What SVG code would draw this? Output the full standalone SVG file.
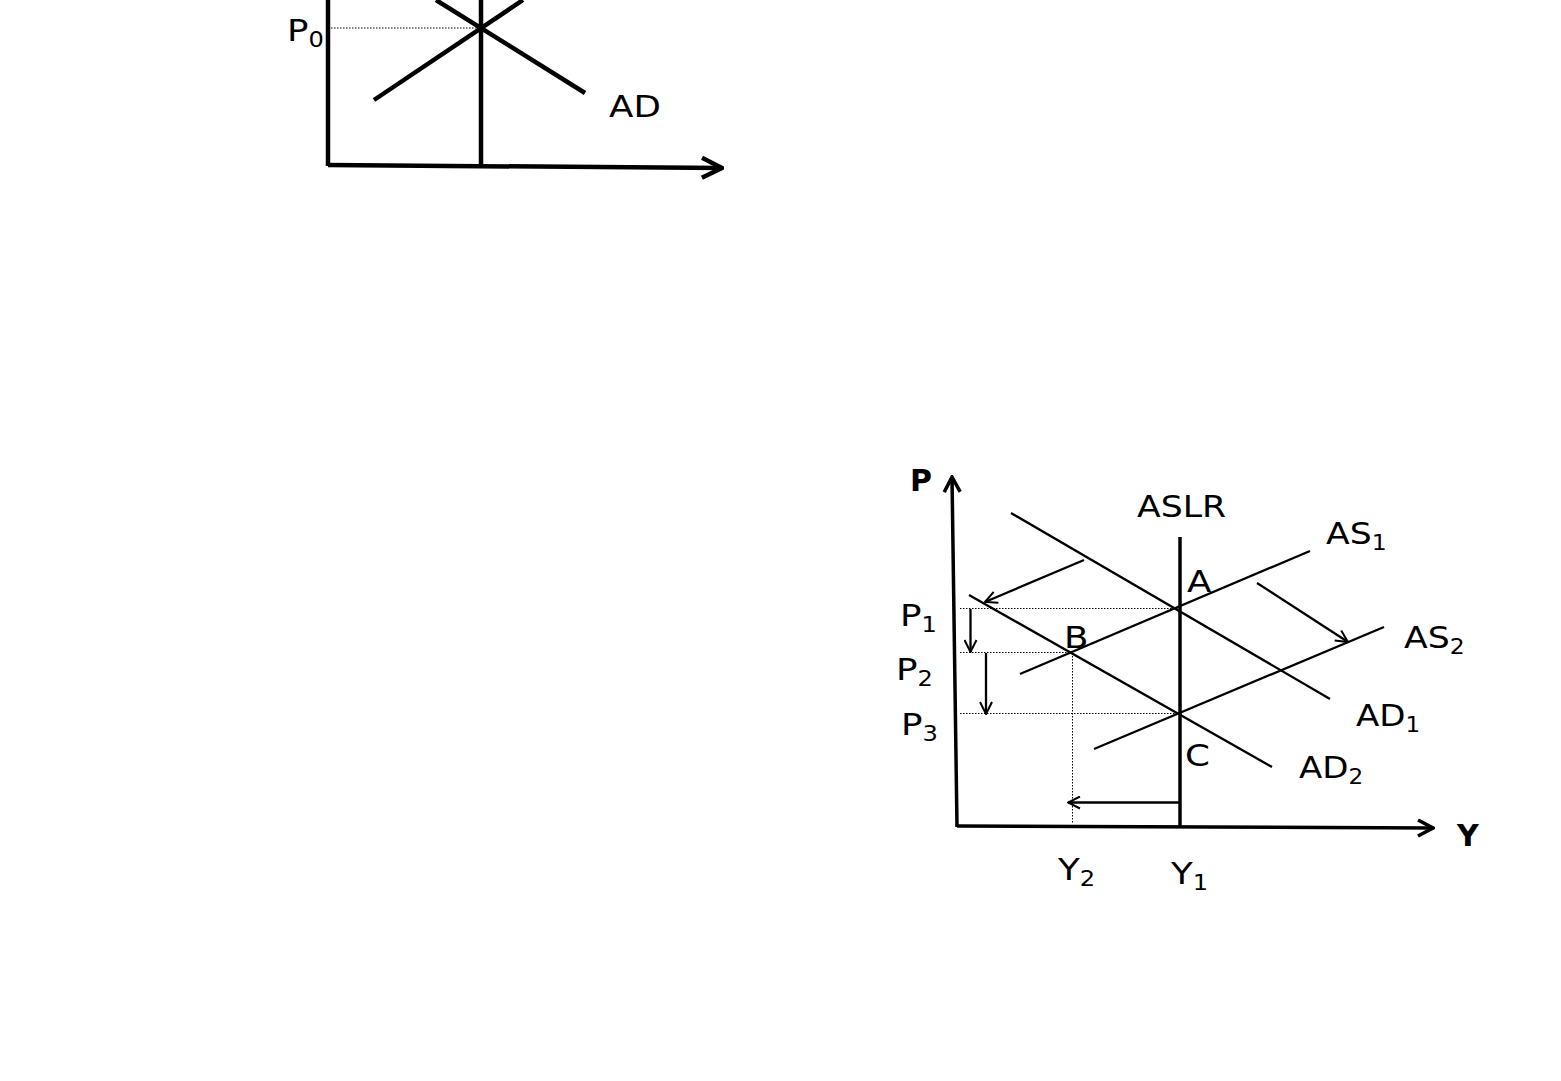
<svg xmlns="http://www.w3.org/2000/svg" width="1561" height="1081" viewBox="0 0 1561 1081">
<style>
.t{font-family:"DejaVu Sans","Liberation Sans",sans-serif;font-size:31px;fill:#000}
.s{font-size:21px}
.b{font-family:"DejaVu Sans","Liberation Sans",sans-serif;font-weight:bold;fill:#000}
.thick{stroke:#000;stroke-width:4.5;fill:none}
.ax{stroke:#000;stroke-width:3.5;fill:none}
.ln{stroke:#000;stroke-width:2.3;fill:none}
.dot{stroke:#000;stroke-width:1;stroke-dasharray:1.5,1.5;fill:none}
</style>
<defs>
<marker id="open" viewBox="0 0 14 14" refX="13" refY="7" markerWidth="14" markerHeight="14" markerUnits="userSpaceOnUse" orient="auto">
<path d="M1,1 L13,7 L1,13" fill="none" stroke="#000" stroke-width="2"/>
</marker>
<marker id="big" viewBox="0 0 20 20" refX="18" refY="10" markerWidth="20" markerHeight="20" markerUnits="userSpaceOnUse" orient="auto">
<path d="M3,2 L18,10 L3,18" fill="none" stroke="#000" stroke-width="3.5"/>
</marker>
<marker id="bigtop" viewBox="0 0 24 24" refX="22" refY="12" markerWidth="24" markerHeight="24" markerUnits="userSpaceOnUse" orient="auto">
<path d="M2,2 L22,12 L2,22" fill="none" stroke="#000" stroke-width="4.5"/>
</marker>
</defs>

<g id="top-chart">
<g id="top-axes">
<line class="thick" x1="328" y1="0" x2="328" y2="166"/>
<line class="thick" x1="328" y1="165" x2="722" y2="168" marker-end="url(#bigtop)"/>
</g>
<g id="top-lr"><line class="thick" x1="481" y1="0" x2="481" y2="165"/></g>
<g id="top-ad"><line class="thick" x1="436" y1="0" x2="585" y2="93"/></g>
<g id="top-as"><line class="thick" x1="523" y1="0" x2="374" y2="100"/></g>
<g id="top-p0-line"><line class="dot" x1="331" y1="28" x2="481" y2="28"/></g>
<g id="label-P0" transform="translate(287,41) scale(1.15,1)"><text class="t">P<tspan class="s" dy="6">0</tspan></text></g>
<g id="label-AD" transform="translate(609,117) scale(1.15,1)"><text class="t">AD</text></g>
</g>

<g id="bottom-chart">
<g id="axes">
<line class="ax" x1="957" y1="827" x2="952" y2="477" marker-end="url(#big)"/>
<line class="ax" x1="957" y1="826" x2="1433" y2="828" marker-end="url(#big)"/>
</g>
<g id="ASLR-line"><line class="ax" x1="1180" y1="537" x2="1180" y2="827"/></g>
<g id="AD1"><line class="ln" x1="1011" y1="513" x2="1330" y2="699"/></g>
<g id="AD2"><line class="ln" x1="969" y1="595" x2="1272" y2="767"/></g>
<g id="AS1"><line class="ln" x1="1020" y1="674" x2="1310" y2="551"/></g>
<g id="AS2"><line class="ln" x1="1094" y1="749" x2="1384" y2="627"/></g>

<g id="connectors">
<line class="ln" x1="1084" y1="560" x2="985" y2="602" marker-end="url(#open)"/>
<line class="ln" x1="1257" y1="583" x2="1348" y2="642" marker-end="url(#open)"/>
<line class="ln" x1="970.5" y1="609" x2="970.5" y2="652" marker-end="url(#open)"/>
<line class="ln" x1="986" y1="653" x2="986" y2="714" marker-end="url(#open)"/>
<line class="ln" x1="1180" y1="802.5" x2="1068" y2="802.5" marker-end="url(#open)"/>
</g>

<g id="guides">
<line class="dot" x1="960" y1="608.5" x2="1180" y2="608.5"/>
<line class="dot" x1="960" y1="652.5" x2="1072" y2="652.5"/>
<line class="dot" x1="960" y1="713.5" x2="1178" y2="713.5"/>
<line class="dot" x1="1072.5" y1="653" x2="1072.5" y2="823"/>
</g>

<g id="label-P" transform="translate(910,491)"><text class="b" font-size="30">P</text></g>
<g id="label-Y" transform="translate(1457,846)"><text class="b" font-size="30">Y</text></g>
<g id="label-ASLR" transform="translate(1137,517) scale(1.12,1)"><text class="t">ASLR</text></g>
<g id="label-A" transform="translate(1187,592) scale(1.15,1)"><text class="t">A</text></g>
<g id="label-B" transform="translate(1064,648) scale(1.15,1)"><text class="t">B</text></g>
<g id="label-C" transform="translate(1185,766) scale(1.15,1)"><text class="t">C</text></g>
<g id="label-P1" transform="translate(900,626) scale(1.15,1)"><text class="t" font-size="29">P<tspan class="s" dy="6">1</tspan></text></g>
<g id="label-P2" transform="translate(896,680) scale(1.15,1)"><text class="t" font-size="29">P<tspan class="s" dy="6">2</tspan></text></g>
<g id="label-P3" transform="translate(901,735) scale(1.15,1)"><text class="t" font-size="29">P<tspan class="s" dy="6">3</tspan></text></g>
<g id="label-AS1" transform="translate(1326,544) scale(1.12,1)"><text class="t">AS<tspan class="s" dy="6">1</tspan></text></g>
<g id="label-AS2" transform="translate(1404,648) scale(1.12,1)"><text class="t">AS<tspan class="s" dy="6">2</tspan></text></g>
<g id="label-AD1" transform="translate(1356,726) scale(1.1,1)"><text class="t">AD<tspan class="s" dy="6">1</tspan></text></g>
<g id="label-AD2" transform="translate(1299,778) scale(1.1,1)"><text class="t">AD<tspan class="s" dy="6">2</tspan></text></g>
<g id="label-Y2" transform="translate(1058,880) scale(1.15,1)"><text class="t">Y<tspan class="s" dy="6">2</tspan></text></g>
<g id="label-Y1" transform="translate(1171,884) scale(1.15,1)"><text class="t">Y<tspan class="s" dy="6">1</tspan></text></g>
</g>
</svg>
